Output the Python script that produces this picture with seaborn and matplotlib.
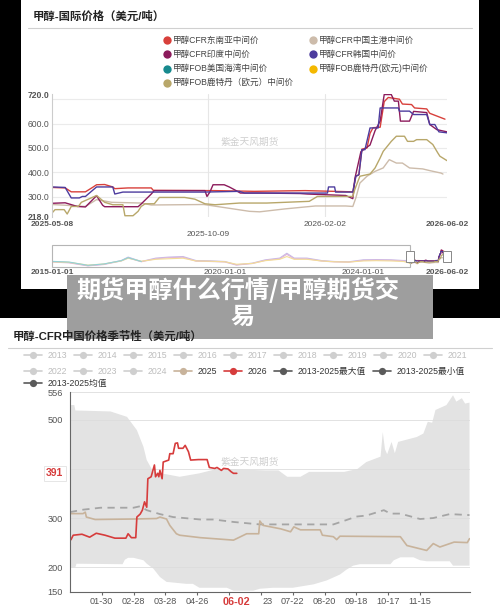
import matplotlib
matplotlib.use("Agg")
import matplotlib.pyplot as plt
import matplotlib.dates as mdates
from matplotlib.patches import Rectangle
import numpy as np
import pandas as pd
import seaborn as sns

# ---- top chart: methanol international prices (USD/t), x = days after START ----
START = "2025-05-08"
END = "2026-06-02"

cfr_sea_days = [0, 13, 19, 33, 40, 44, 52, 60, 62, 75, 98, 100, 160, 200, 250, 297, 300, 303, 306, 311,
                314, 317, 324, 328, 332, 343, 346, 355, 358, 370, 373, 388]
cfr_sea_vals = [338, 336, 320, 320, 338, 349, 350, 340, 333, 336, 336, 326, 325, 322, 325, 320, 384, 390, 495, 500,
                560, 583, 585, 690, 707, 700, 680, 678, 664, 660, 642, 618]

cfr_cn_days = [0, 13, 33, 44, 59, 88, 98, 150, 195, 205, 230, 260, 290, 297, 300, 304, 311, 319, 327, 333,
               340, 346, 353, 366, 373, 384, 386]
cfr_cn_vals = [268, 265, 260, 288, 277, 274, 266, 268, 240, 238, 250, 262, 262, 260, 295, 356, 384, 404, 418, 452,
               438, 438, 418, 414, 407, 397, 393]

cfr_in_days = [0, 13, 25, 33, 44, 50, 52, 85, 88, 98, 101, 151, 153, 156, 159, 170, 175, 180, 186, 205,
               245, 252, 290, 297, 299, 305, 314, 319, 324, 328, 335, 338, 342, 344, 353, 357, 370, 373, 380, 390]
cfr_in_vals = [273, 275, 260, 258, 304, 265, 259, 259, 270, 311, 325, 325, 301, 320, 349, 349, 340, 329, 315, 315,
               313, 311, 305, 292, 374, 485, 512, 571, 610, 719, 719, 692, 692, 610, 610, 650, 645, 596, 575, 566]

cfr_kr_days = [0, 13, 19, 27, 30, 33, 44, 60, 62, 70, 150, 185, 190, 272, 273, 279, 280, 297, 300, 303,
               306, 309, 314, 322, 324, 342, 343, 353, 357, 370, 373, 378, 382, 390]
cfr_kr_vals = [340, 338, 295, 295, 301, 301, 340, 340, 311, 319, 319, 322, 315, 315, 340, 340, 319, 319, 384, 390,
               493, 493, 582, 582, 664, 664, 651, 651, 637, 637, 596, 596, 566, 562]

fob_rtm_days = [0, 3, 12, 15, 19, 26, 29, 44, 52, 60, 70, 72, 80, 85, 88, 92, 101, 106, 131, 141,
                151, 161, 185, 212, 254, 262, 297, 299, 304, 314, 319, 324, 327, 335, 340, 348, 351, 357, 360, 370,
                376, 381, 383, 390]
fob_rtm_vals = [233, 247, 247, 229, 260, 260, 277, 305, 277, 267, 267, 222, 222, 240, 260, 271, 271, 297, 297, 290,
                271, 267, 274, 274, 281, 301, 301, 330, 384, 393, 418, 459, 486, 527, 548, 548, 527, 527, 534, 534,
                514, 479, 466, 448]

intl_labels = ["甲醇CFR东南亚中间价", "甲醇CFR中国主港中间价", "甲醇CFR印度中间价", "甲醇CFR韩国中间价",
               "甲醇FOB美国海湾中间价", "甲醇FOB鹿特丹(欧元)中间价", "甲醇FOB鹿特丹（欧元）中间价"]
intl_colors = ["#d8403b", "#cdbcab", "#8c1b5c", "#4d3c9e", "#178a8e", "#f4b800", "#b8a76a"]

# ---- navigator: long history (faded) ----
nav_dates = ["2015-01-01", "2015-07-01", "2016-01-15", "2016-07-01", "2017-01-01", "2017-03-15", "2017-08-01",
             "2018-01-01", "2018-05-15", "2018-10-15", "2019-03-01", "2019-08-01", "2020-01-01", "2020-05-01",
             "2020-10-15", "2021-03-01", "2021-08-01", "2021-10-15", "2022-01-01", "2022-05-15", "2022-10-15",
             "2023-03-01", "2023-08-01", "2024-01-01", "2024-05-15", "2024-10-15", "2025-03-01", "2025-05-08"]
nav_kr = [300, 265, 150, 200, 335, 460, 300, 424, 460, 480, 335, 325, 300, 180, 240, 360, 424, 600, 424, 424,
          335, 300, 290, 362, 370, 362, 335, 340]
nav_in = [280, 250, 140, 190, 320, 430, 290, 400, 440, 455, 310, 300, 280, 170, 225, 340, 400, 560, 400, 400,
          315, 285, 275, 340, 350, 345, 320, 275]
nav_rtm = [290, 270, 170, 210, 320, 420, 310, 380, 400, 420, 320, 310, 290, 200, 230, 330, 380, 480, 380, 380,
           320, 290, 280, 320, 330, 320, 300, 235]
nav_gulf = [305, 280, 160, 210, 330, 440, 300]
nav_ticks = ["2015-01-01", "2020-01-01", "2024-01-01", "2026-06-02"]

# ---- bottom chart: CFR China seasonality, x = day of year ----
max_days = [0, 4, 5, 37, 52, 61, 67, 70, 76, 100, 118, 134, 179, 190, 198, 210, 218, 250, 262, 270,
            283, 285, 287, 289, 293, 296, 299, 316, 322, 326, 330, 333, 343, 349, 352, 357, 360, 364]
max_vals = [530, 530, 519, 517, 506, 479, 445, 418, 394, 384, 391, 400, 397, 397, 384, 384, 394, 394, 400, 414,
            425, 475, 440, 430, 455, 432, 455, 465, 472, 496, 494, 520, 530, 550, 537, 544, 533, 535]
min_days = [0, 5, 6, 48, 50, 53, 58, 67, 70, 76, 82, 88, 106, 112, 118, 143, 149, 167, 173, 185,
            203, 222, 234, 246, 252, 258, 264, 292, 295, 301, 313, 319, 325, 346, 349, 364]
min_vals = [200, 200, 207, 206, 215, 219, 219, 214, 207, 197, 180, 170, 166, 166, 158, 158, 152, 152, 156, 158,
            158, 165, 173, 185, 195, 203, 206, 206, 214, 220, 220, 214, 212, 212, 203, 203]
mean_days = [0, 12, 28, 58, 64, 70, 82, 94, 119, 131, 149, 173, 204, 240, 252, 261, 270, 286, 292, 301,
             319, 331, 346, 364]
mean_vals = [312, 317, 321, 321, 324, 316, 308, 302, 297, 297, 292, 287, 287, 287, 296, 303, 305, 316, 309, 309,
             298, 300, 308, 306]
y2025_days = [0, 12, 14, 15, 23, 58, 79, 82, 88, 91, 97, 100, 119, 131, 149, 161, 172, 173, 176, 192,
              201, 204, 210, 228, 230, 240, 243, 246, 301, 307, 325, 331, 337, 350, 362, 364]
y2025_vals = [309, 309, 312, 302, 297, 298, 299, 302, 298, 285, 268, 265, 260, 258, 255, 268, 268, 294, 285, 278,
              272, 282, 276, 276, 265, 262, 256, 263, 262, 244, 234, 248, 241, 251, 250, 258]
y2026_days = [0, 1, 3, 11, 18, 24, 32, 41, 51, 53, 56, 60, 61, 64, 66, 68, 70, 71, 74, 77,
              78, 80, 81, 82, 84, 85, 90, 91, 94, 96, 98, 99, 103, 105, 108, 110, 117, 125, 127, 132,
              134, 138, 140, 144, 147, 149, 152]
y2026_vals = [256, 256, 265, 267, 261, 269, 265, 259, 259, 268, 260, 260, 302, 308, 316, 333, 322, 380, 384, 408,
              384, 391, 384, 397, 380, 414, 418, 431, 431, 452, 453, 442, 442, 448, 435, 418, 419, 419, 403, 401,
              403, 397, 401, 400, 394, 391, 391]
# 05-25 sits under the current-date label, and only the "23" of 06-23 is visible
season_ticks = [29, 58, 87, 116, 145, 174, 203, 232, 261, 290, 319]
season_tick_labels = ["01-30", "02-28", "03-28", "04-26", "", "", "07-22", "08-20", "09-18", "10-17", "11-15"]
season_yticks = [150, 200, 300, 500, 556]
legend_off = ["2013", "2014", "2015", "2016", "2017", "2018", "2019", "2020", "2021", "2022", "2023", "2024"]
legend_on = ["2025", "2026", "2013-2025最大值", "2013-2025最小值", "2013-2025均值"]
legend_on_colors = ["#c8b39b", "#d63c3c", "#5a5a5a", "#5a5a5a", "#5a5a5a"]

W, H = 500, 610


def fig_box(x0, y0, x1, y1):
    return [x0 / W, 1 - y1 / H, (x1 - x0) / W, (y1 - y0) / H]


sns.set_theme(style="white")
plt.rcParams["font.family"] = ["Liberation Sans", "Noto Sans CJK SC", "DejaVu Sans"]
plt.rcParams["axes.unicode_minus"] = False

fig = plt.figure(figsize=(W / 100, H / 100), dpi=100, facecolor="black")

# background layer in pixel coordinates
bg = fig.add_axes([0, 0, 1, 1], zorder=0)
bg.set_xlim(0, W)
bg.set_ylim(H, 0)
bg.axis("off")
bg.add_patch(Rectangle((21, 0), 458, 289, fc="white", ec="none"))
bg.add_patch(Rectangle((0, 318), 500, 292, fc="white", ec="none"))

bg.text(33, 16, "甲醇-国际价格（美元/吨）", fontsize=8.2, fontweight="bold", color="#222222", va="center")
bg.plot([28, 472], [28.3, 28.3], color="#d0d0d0", lw=0.8)
leg_cols = [167, 313]
leg_rows = [40, 54, 68.5, 82.5]
for i, (lab, col) in enumerate(zip(intl_labels, intl_colors)):
    x, y = leg_cols[i % 2], leg_rows[i // 2]
    bg.plot(x, y, "o", ms=6, color=col, mec="none")
    bg.text(x + 6, y, lab, fontsize=6.2, color="#444444", va="center")

# ---- main international price chart ----
t0, t1 = pd.Timestamp(START), pd.Timestamp(END)
series = [(intl_labels[0], cfr_sea_days, cfr_sea_vals), (intl_labels[1], cfr_cn_days, cfr_cn_vals),
          (intl_labels[2], cfr_in_days, cfr_in_vals), (intl_labels[3], cfr_kr_days, cfr_kr_vals),
          (intl_labels[6], fob_rtm_days, fob_rtm_vals)]
intl = pd.concat([pd.DataFrame({"date": t0 + pd.to_timedelta(d, unit="D"), "price": v, "series": n})
                  for n, d, v in series], ignore_index=True)
palette = dict(zip(intl_labels, intl_colors))
drawn = [s[0] for s in series]

ax1 = fig.add_axes(fig_box(52, 94.3, 447, 216.7), zorder=1)
sns.lineplot(data=intl, x="date", y="price", hue="series", hue_order=drawn, palette=palette,
             estimator=None, sort=False, lw=1.0, legend=False, ax=ax1)
ax1.set_xlim(t0, t1)
ax1.set_ylim(218, 720)
for v in [300, 400, 500, 600, 700]:
    ax1.axhline(v, color="#ebebeb", lw=0.8, zorder=0)
for d in ["2025-10-09", "2026-02-02"]:
    ax1.axvline(pd.Timestamp(d), color="#e6e6e6", lw=0.8, zorder=0)
yt = [218, 300, 400, 500, 600, 720]
ax1.set_yticks(yt)
ax1.set_yticklabels([f"{v:.1f}" for v in yt])
ax1.set_xticks([t0, pd.Timestamp("2026-02-02"), t1])
ax1.set_xticklabels([START, "2026-02-02", END])
for lbl in [ax1.get_yticklabels()[0], ax1.get_yticklabels()[-1], ax1.get_xticklabels()[0], ax1.get_xticklabels()[-1]]:
    lbl.set_fontweight("bold")
    lbl.set_color("#222222")
ax1.tick_params(axis="y", length=0, pad=2, labelsize=6.2, labelcolor="#555555")
ax1.tick_params(axis="x", length=0, pad=3, labelsize=6, labelcolor="#555555")
ax1.text(mdates.date2num(pd.Timestamp("2025-10-09")), -0.144, "2025-10-09", transform=ax1.get_xaxis_transform(),
         ha="center", va="center", fontsize=6, color="#555555")
ax1.text(0.5, 0.61, "紫金天风期货", transform=ax1.transAxes, ha="center", va="center", fontsize=7, color="#cfcfcf")
ax1.set_xlabel("")
ax1.set_ylabel("")
for s in ["top", "right", "bottom"]:
    ax1.spines[s].set_visible(False)
ax1.spines["left"].set_color("#cccccc")
ax1.spines["left"].set_linewidth(0.8)

# ---- navigator ----
nav = pd.concat([
    pd.DataFrame({"date": pd.to_datetime(nav_dates), "price": nav_kr, "series": "kr"}),
    pd.DataFrame({"date": pd.to_datetime(nav_dates), "price": nav_in, "series": "in"}),
    pd.DataFrame({"date": pd.to_datetime(nav_dates), "price": nav_rtm, "series": "rtm"}),
    pd.DataFrame({"date": pd.to_datetime(nav_dates[:len(nav_gulf)]), "price": nav_gulf, "series": "gulf"}),
], ignore_index=True)
nav_palette = {"kr": "#c6b9e8", "in": "#dfb7d9", "rtm": "#f3dc98", "gulf": "#92d2d6"}

ax_nav = fig.add_axes(fig_box(52, 245, 447, 267), zorder=1)
sns.lineplot(data=nav, x="date", y="price", hue="series", palette=nav_palette, estimator=None, sort=False,
             lw=0.8, legend=False, ax=ax_nav)
sns.lineplot(data=intl, x="date", y="price", hue="series", hue_order=drawn, palette=palette,
             estimator=None, sort=False, lw=0.8, legend=False, ax=ax_nav)
n0 = pd.Timestamp(nav_ticks[0])
ax_nav.set_xlim(n0, t1)
ax_nav.set_ylim(100, 900)
ax_nav.set_yticks([])
ax_nav.set_xticks(pd.to_datetime(nav_ticks))
ax_nav.set_xticklabels(nav_ticks)
for lbl in [ax_nav.get_xticklabels()[0], ax_nav.get_xticklabels()[-1]]:
    lbl.set_fontweight("bold")
    lbl.set_color("#222222")
ax_nav.tick_params(axis="x", length=0, pad=1.5, labelsize=6, labelcolor="#555555")
ax_nav.set_xlabel("")
ax_nav.set_ylabel("")
for s in ax_nav.spines.values():
    s.set_visible(False)
xa, xb = mdates.date2num(n0), mdates.date2num(t0)
ax_nav.add_patch(Rectangle((xa, 0), xb - xa, 1, transform=ax_nav.get_xaxis_transform(), fill=False,
                           ec="#b5b5b5", lw=0.8, clip_on=False, zorder=3))
for xh in [xb, mdates.date2num(t1)]:
    ax_nav.add_patch(Rectangle((xh - 40, 0.25), 80, 0.5, transform=ax_nav.get_xaxis_transform(),
                               fc="white", ec="#888888", lw=0.7, clip_on=False, zorder=4))

# ---- overlay: banner and bottom title ----
ov = fig.add_axes([0, 0, 1, 1], zorder=10)
ov.set_xlim(0, W)
ov.set_ylim(H, 0)
ov.axis("off")
ov.add_patch(Rectangle((67, 275), 366, 64, fc="#9e9e9e", ec="none", zorder=1))
ov.text(237.5, 290, "期货甲醇什么行情/甲醇期货交", fontsize=17.4, fontweight="bold", color="white",
        ha="center", va="center", family=["Noto Sans CJK SC"], zorder=2)
ov.text(243, 317, "易", fontsize=17.4, fontweight="bold", color="white", ha="center", va="center",
        family=["Noto Sans CJK SC"], zorder=2)
ov.text(12.5, 336, "甲醇-CFR中国价格季节性（美元/吨）", fontsize=8.2, fontweight="bold", color="#222222",
        va="center", zorder=3)

# bottom legend
bg.plot([8, 492], [348.3, 348.3], color="#d0d0d0", lw=0.8)
items = [(lab, "#cfcfcf", "#bdbdbd") for lab in legend_off] + \
        [(lab, c, "#333333") for lab, c in zip(legend_on, legend_on_colors)]
x, row = 33.3, 0
rows_y = [355, 371.2, 383.2]
for lab, mc, tc in items:
    if x > 470:
        x, row = 33.3, row + 1
    y = rows_y[row]
    bg.plot([x - 9, x + 9], [y, y], color=mc, lw=1.2)
    bg.plot(x, y, "o", ms=5.2, color=mc, mec="none")
    bg.text(x + 14.4, y, lab, fontsize=6.3, color=tc, va="center")
    x += 50 if len(lab) == 4 else 99

# ---- seasonal chart ----
ax2 = fig.add_axes(fig_box(69.9, 392.3, 469.5, 591.7), zorder=1)
ax2.fill(np.r_[max_days, min_days[::-1]], np.r_[max_vals, min_vals[::-1]], color="#e3e3e3", lw=0, zorder=0.6)
for v in [200, 300, 400, 500, 556]:
    ax2.axhline(v, color="#dddddd", lw=0.6, zorder=0.7)
seas = pd.concat([pd.DataFrame({"day": y2025_days, "price": y2025_vals, "year": "2025"}),
                  pd.DataFrame({"day": y2026_days, "price": y2026_vals, "year": "2026"})], ignore_index=True)
sns.lineplot(x=mean_days, y=mean_vals, color="#a5a5a5", lw=1.3, linestyle=(0, (4, 3)), ax=ax2)
sns.lineplot(data=seas, x="day", y="price", hue="year", palette={"2025": "#c8b39b", "2026": "#d63c3c"},
             estimator=None, sort=False, lw=1.2, legend=False, ax=ax2)
ax2.set_xlim(0, 364)
ax2.set_ylim(150, 556)
ax2.set_yticks(season_yticks)
ax2.set_yticklabels([str(v) for v in season_yticks])
ax2.set_xticks(season_ticks)
ax2.set_xticklabels(season_tick_labels)
ax2.tick_params(axis="y", length=0, pad=5, labelsize=6.6, labelcolor="#555555")
ax2.tick_params(axis="x", length=2.5, width=0.8, color="#666666", direction="out", pad=1.5,
                labelsize=6.6, labelcolor="#555555", bottom=True)
ax2.set_xlabel("")
ax2.set_ylabel("")
for s in ["top", "right"]:
    ax2.spines[s].set_visible(False)
for s in ["left", "bottom"]:
    ax2.spines[s].set_color("#666666")
    ax2.spines[s].set_linewidth(0.8)
ax2.text(0.45, 0.652, "紫金天风期货", transform=ax2.transAxes, ha="center", va="center", fontsize=7,
         color="#cfcfcf", zorder=0.8)
ax2.text(-0.016, y2026_vals[-1], f"{y2026_vals[-1]}", transform=ax2.get_yaxis_transform(), ha="right",
         va="center", fontsize=7.5, fontweight="bold", color="#d63c3c",
         bbox=dict(boxstyle="square,pad=0.25", fc="white", ec="#e2e2e2", lw=0.6))
# current date label on the axis, and the visible tail of the 06-23 tick label
xt = ax2.get_xaxis_transform()
ax2.text(y2026_days[-1], -0.05, "06-02", transform=xt, ha="center", va="center", fontsize=7.8,
         fontweight="bold", color="#d63c3c", zorder=6)
ax2.text(season_ticks[5] + 1.5, -0.047, "23", transform=xt, ha="left", va="center", fontsize=6.6,
         color="#555555")

fig.savefig("out.png", dpi=100)
